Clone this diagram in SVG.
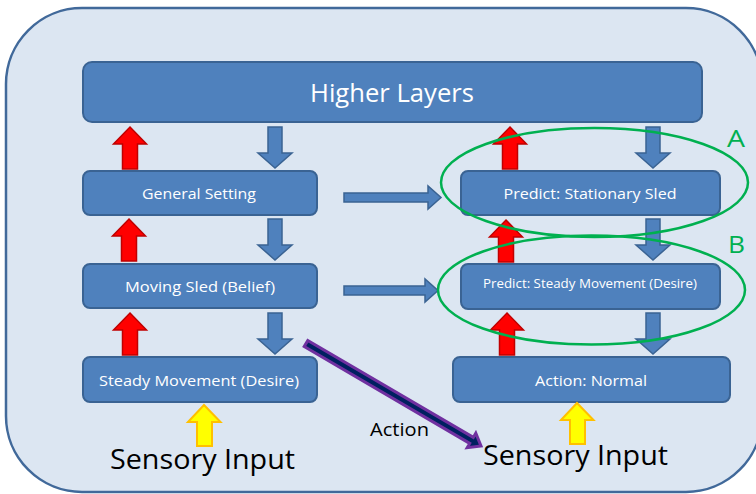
<svg xmlns="http://www.w3.org/2000/svg" width="756" height="494" viewBox="0 0 756 494">
  <style>
    .panel { fill: #dce6f2; stroke: #41699a; stroke-width: 2.5; }
    .box { fill: #4f81bd; stroke: #3a6393; stroke-width: 2; }
    .lbl { fill: #ffffff; font-family: "Open Sans", "Liberation Sans", sans-serif; text-anchor: middle; }
    .dark { fill: #000000; font-family: "Open Sans", "Liberation Sans", sans-serif; }
    .down { fill: #4f81bd; stroke: #3a6393; stroke-width: 1.5; }
    .up { fill: #ff0000; stroke: #c00000; stroke-width: 1.5; }
    .sense { fill: #ffff00; stroke: #ffc000; stroke-width: 2; }
    .link { fill: #4f81bd; stroke: #3a6393; stroke-width: 1.5; }
    .ring { fill: none; stroke: #00b050; stroke-width: 2.5; }
    .tag { fill: #00b050; font-family: "Open Sans", "Liberation Sans", sans-serif; font-size: 24px; }
  </style>
  <defs>
    <!-- block arrow pointing down, top centre at origin -->
    <path id="downArrow" d="M-7,0 H7 V26 H17 L0,41 L-17,26 H-7 Z"/>
    <!-- block arrow pointing up, tip at origin -->
    <path id="upArrow" d="M0,0 L16.5,17 H7.5 V42 H-7.5 V17 H-16.5 Z"/>
  </defs>

  <!-- background panel -->
  <rect class="panel" x="6" y="8" width="756" height="484" rx="76" ry="76"/>

  <g id="higher-layers">
    <rect class="box" x="83" y="62" width="619" height="60" rx="9"/>
    <text class="lbl" x="392" y="102" font-size="26" textLength="164" lengthAdjust="spacingAndGlyphs">Higher Layers</text>
  </g>

  <g id="general-setting">
    <rect class="box" x="83" y="171" width="234" height="44" rx="7"/>
    <text class="lbl" x="199" y="199" font-size="15" textLength="114" lengthAdjust="spacingAndGlyphs">General Setting</text>
  </g>

  <g id="moving-sled">
    <rect class="box" x="83" y="264" width="234" height="44" rx="7"/>
    <text class="lbl" x="200" y="292" font-size="15" textLength="150" lengthAdjust="spacingAndGlyphs">Moving Sled (Belief)</text>
  </g>

  <g id="steady-movement">
    <rect class="box" x="83" y="357" width="234" height="45" rx="7"/>
    <text class="lbl" x="199" y="386" font-size="15" textLength="200" lengthAdjust="spacingAndGlyphs">Steady Movement (Desire)</text>
  </g>

  <g id="predict-stationary">
    <rect class="box" x="461" y="171" width="259" height="44" rx="7"/>
    <text class="lbl" x="590" y="199" font-size="15" textLength="173" lengthAdjust="spacingAndGlyphs">Predict: Stationary Sled</text>
  </g>

  <g id="predict-steady">
    <rect class="box" x="461" y="264" width="259" height="45" rx="7"/>
    <text class="lbl" x="590" y="288" font-size="13" textLength="214" lengthAdjust="spacingAndGlyphs">Predict: Steady Movement (Desire)</text>
  </g>

  <g id="action-normal">
    <rect class="box" x="453" y="357" width="277" height="45" rx="7"/>
    <text class="lbl" x="591" y="386" font-size="15" textLength="112" lengthAdjust="spacingAndGlyphs">Action: Normal</text>
  </g>

  <g id="sensory-left">
    <text class="dark" x="110" y="469" font-size="28" textLength="185" lengthAdjust="spacingAndGlyphs">Sensory Input</text>
  </g>

  <g id="sensory-right">
    <text class="dark" x="483" y="465" font-size="28" textLength="185" lengthAdjust="spacingAndGlyphs">Sensory Input</text>
  </g>

  <g id="connectors">
    <!-- top-down predictions -->
    <use href="#downArrow" class="down" x="275" y="127"/>
    <use href="#downArrow" class="down" x="275" y="219"/>
    <use href="#downArrow" class="down" x="275" y="313"/>
    <use href="#downArrow" class="down" x="653" y="127"/>
    <use href="#downArrow" class="down" x="653" y="219"/>
    <use href="#downArrow" class="down" x="653" y="313"/>

    <!-- bottom-up errors -->
    <use href="#upArrow" class="up" x="130" y="127"/>
    <use href="#upArrow" class="up" x="129" y="219"/>
    <use href="#upArrow" class="up" x="130" y="313"/>
    <use href="#upArrow" class="up" x="510" y="127"/>
    <use href="#upArrow" class="up" x="506" y="220"/>
    <use href="#upArrow" class="up" x="507" y="313"/>

    <!-- sensory input -->
    <path class="sense" d="M204,405 L220.5,422 H212 V446 H197 V422 H188 Z"/>
    <path class="sense" d="M577,403 L593.5,420 H585 V444 H570 V420 H561 Z"/>

    <!-- left column to right column -->
    <path class="link" d="M344,193 H428 V186 L441,197.5 L428,209 V202 H344 Z"/>
    <path class="link" d="M344,286 H425 V279 L438,290.5 L425,302 V295 H344 Z"/>

    <!-- action -->
    <polygon points="307.8,340.5 473.3,437.4 475.8,433.1 481,446 467.2,447.7 469.7,443.4 304.2,346.5" fill="#002060" stroke="#7030a0" stroke-width="3" stroke-linejoin="miter"/>
    <text class="dark" x="370" y="436" font-size="18" textLength="59" lengthAdjust="spacingAndGlyphs">Action</text>
  </g>

  <g id="group-a">
    <ellipse class="ring" cx="594.5" cy="182.5" rx="153.5" ry="54.5"/>
    <text class="tag" x="727" y="147" textLength="18" lengthAdjust="spacingAndGlyphs">A</text>
  </g>

  <g id="group-b">
    <ellipse class="ring" cx="591.5" cy="290" rx="153.5" ry="54.5"/>
    <text class="tag" x="728" y="253" textLength="17" lengthAdjust="spacingAndGlyphs">B</text>
  </g>
</svg>
